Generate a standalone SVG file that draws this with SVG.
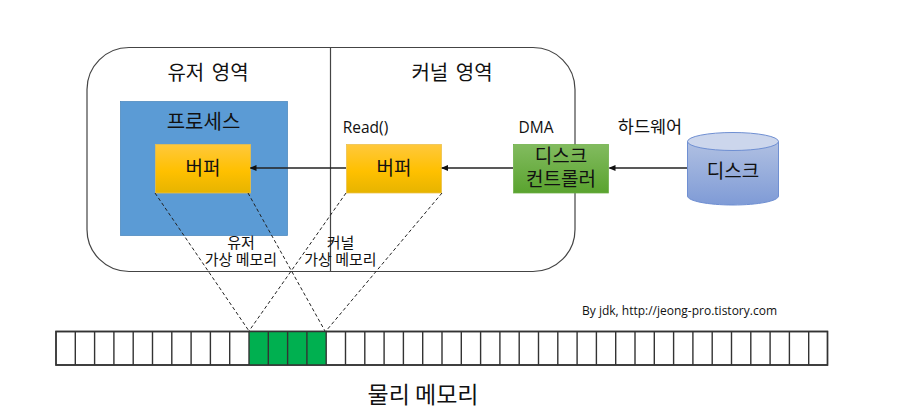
<svg xmlns="http://www.w3.org/2000/svg" width="911" height="415" viewBox="0 0 911 415">
<style>
text{font-family:"Noto Sans CJK KR","Noto Sans",sans-serif;fill:#111;text-anchor:middle}
.l{font-size:20px;word-spacing:3px}.m{font-size:19px}.s{font-size:15.5px}.v{font-size:15px}
.lat{font-family:"Open Sans","Noto Sans",sans-serif}
.cell{fill:#fff;stroke:#333;stroke-width:1.4}
.on{fill:#00b050}
.dash{fill:none;stroke:#222;stroke-width:1;stroke-dasharray:3.5 2.5}
.conn{stroke:#222;stroke-width:1.5;fill:none;marker-end:url(#a)}
.buf{fill:url(#y);stroke:#ecc04a;stroke-width:.75}
</style>
<defs>
<linearGradient id="y" x1="0" y1="0" x2="0" y2="1"><stop offset="0" stop-color="#ffc83c"/><stop offset=".55" stop-color="#ffc000"/><stop offset="1" stop-color="#e6b400"/></linearGradient>
<linearGradient id="g" x1="0" y1="0" x2="0" y2="1"><stop offset="0" stop-color="#82bb5f"/><stop offset="1" stop-color="#5aa32f"/></linearGradient>
<linearGradient id="b" x1="0" y1="0" x2="0" y2="1"><stop offset="0" stop-color="#b0c0e2"/><stop offset="1" stop-color="#7f9bd6"/></linearGradient>
<marker id="a" markerWidth="7" markerHeight="6" refX="6" refY="3" orient="auto" markerUnits="userSpaceOnUse"><path d="M7 0L0 3L7 6Z" fill="#111" transform="rotate(180 3.5 3)"/></marker>
</defs>
<rect width="911" height="415" fill="#fff"/>
<g id="kernel-user-space">
<rect x="87" y="47.5" width="488" height="224" rx="42" fill="#fff" stroke="#444" stroke-width="1.2"/>
<line x1="330.5" y1="47.5" x2="330.5" y2="271.5" stroke="#444" stroke-width="1.2"/>
<text class="l" x="208" y="80">유저 영역</text>
<text class="l" x="452" y="80">커널 영역</text>
</g>
<g id="process">
<rect x="120.5" y="101.5" width="167" height="134" fill="#5b9bd5" stroke="#4a86bd" stroke-width=".75"/>
<text class="l" x="203.500" y="129">프로세스</text>
</g>
<g id="user-buffer"><rect class="buf" x="155.5" y="144.5" width="95" height="48.5"/><text class="m" x="203" y="175">버퍼</text></g>
<g id="kernel-buffer"><rect class="buf" x="346.5" y="144.5" width="95" height="48.5"/><text class="m" x="394" y="175">버퍼</text><text class="s lat" x="365.500" y="133">Read()</text></g>
<g id="disk-controller"><rect x="513.500" y="144.5" width="95" height="48.500" fill="url(#g)" stroke="#6cae45" stroke-width=".75"/><text class="m" x="561" y="163">디스크</text><text class="m" x="561" y="186">컨트롤러</text><text class="s lat" x="536" y="133">DMA</text></g>
<g id="disk">
<path d="M687.500 141.500V196C687.500 201 708 205 733 205S778.500 201 778.500 196V141.500Z" fill="url(#b)" stroke="#6f8fd2"/>
<ellipse cx="733" cy="141.500" rx="45.500" ry="9" fill="#ccd6ec" stroke="#6f8fd2"/>
<text class="m" x="733" y="178">디스크</text>
<text x="650" y="133" style="font-size:17.500px">하드웨어</text>
</g>
<g id="connectors">
<line class="conn" x1="687" y1="168" x2="609.500" y2="168"/>
<line class="conn" x1="513" y1="168" x2="442" y2="168"/>
<line class="conn" x1="346" y1="168" x2="250.500" y2="168"/>
<path class="dash" d="M155 193L249 331M248 193L325 331M346 193L249 331M442 193L326 331"/>
</g>
<g id="virtual-labels">
<text class="v"><tspan x="241" y="248">유저</tspan><tspan x="241" y="265">가상 메모리</tspan></text>
<text class="v"><tspan x="340.500" y="248">커널</tspan><tspan x="340.500" y="265">가상 메모리</tspan></text>
</g>
<g id="physical-memory">
<path class="cell" d="M56 331.500H827.500V365H56Z"/>
<rect class="on" x="249" y="331.500" width="77" height="33.500"/>
<path class="cell" style="fill:none" d="M56 331.500H827.500V365H56ZM75.300 331.500V365M94.600 331.500V365M113.900 331.500V365M133.200 331.500V365M152.500 331.500V365M171.800 331.500V365M191.100 331.500V365M210.400 331.500V365M229.700 331.500V365M249 331.500V365M268.300 331.500V365M287.600 331.500V365M306.900 331.500V365M326.200 331.500V365M345.500 331.500V365M364.800 331.500V365M384.100 331.500V365M403.400 331.500V365M422.700 331.500V365M442 331.500V365M461.300 331.500V365M480.600 331.500V365M499.900 331.500V365M519.200 331.500V365M538.500 331.500V365M557.800 331.500V365M577.100 331.500V365M596.400 331.500V365M615.700 331.500V365M635 331.500V365M654.300 331.500V365M673.600 331.500V365M692.900 331.500V365M712.200 331.500V365M731.500 331.500V365M750.800 331.500V365M770.100 331.500V365M789.400 331.500V365M808.700 331.500V365"/>
<text x="423" y="403" style="font-size:23px">물리 메모리</text>
</g>
<g id="credit"><text class="lat" x="679.500" y="315" style="font-size:12px">By jdk, http://jeong-pro.tistory.com</text></g>
</svg>
